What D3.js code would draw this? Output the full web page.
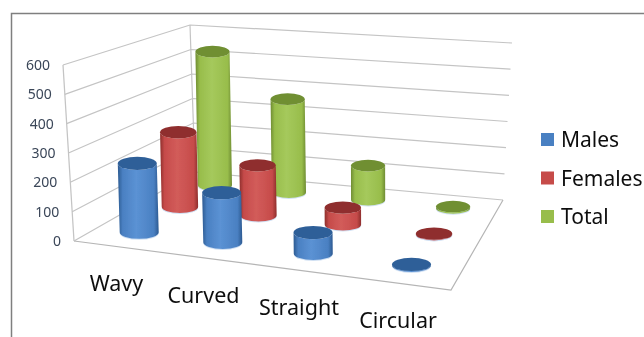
<!DOCTYPE html>
<html>
<head>
<meta charset="utf-8">
<script src="https://cdnjs.cloudflare.com/ajax/libs/d3/7.8.5/d3.min.js"></script>
<style>
    html, body {margin:0; padding:0; background:#fff;}
    svg {display:block;}
    text {font-family:"Noto Sans", "Open Sans", sans-serif;}
</style>
</head>
<body>
<svg id="vis"></svg>
<script>
var categories = ["Wavy","Curved","Straight","Circular"];
var seriesNames = ["Males","Females","Total"];
var males = [240,170,70,3];
var females = [277,182,60,2];
var total = [525,360,130,5];
var yTicks = [0,100,200,300,400,500,600];

var seriesValues = {Males:males, Females:females, Total:total};
var colors = {
    Males:  {top:"#2f5f98", dark:"#2c5a91", body:"#4a80c2", light:"#5b92d4"},
    Females:{top:"#8f2f2d", dark:"#8e2f2c", body:"#c64b4a", light:"#d25c5a"},
    Total:  {top:"#6f8f32", dark:"#6f8c33", body:"#98bd4b", light:"#a5c95c"}
};

var width = 644, height = 337;

var svg = d3.select("#vis").attr("width", width).attr("height", height);

//corners of the 3d box as seen in the picture: front-left, front-right, back-right, back-left
var floorQuad = [[74,241],[451,290],[503,200],[195,172]];
var topQuad = [[63,65],[462,100],[512,43],[190,25]];

function squareToQuad(q){
    var dx1 = q[1][0]-q[2][0], dx2 = q[3][0]-q[2][0], sx = q[0][0]-q[1][0]+q[2][0]-q[3][0];
    var dy1 = q[1][1]-q[2][1], dy2 = q[3][1]-q[2][1], sy = q[0][1]-q[1][1]+q[2][1]-q[3][1];
    var det = dx1*dy2-dx2*dy1;
    var g = (sx*dy2-dx2*sy)/det, h = (dx1*sy-sx*dy1)/det;
    var a = q[1][0]-q[0][0]+g*q[1][0], b = q[3][0]-q[0][0]+h*q[3][0], c = q[0][0];
    var d = q[1][1]-q[0][1]+g*q[1][1], e = q[3][1]-q[0][1]+h*q[3][1], f = q[0][1];
    return function(u,v){
        var w = g*u+h*v+1;
        return [(a*u+b*v+c)/w, (d*u+e*v+f)/w];
    };
}

var floorMap = squareToQuad(floorQuad), topMap = squareToQuad(topQuad);

//scales
var x = d3.scaleBand().domain(categories).range([0.005,1.005]);
var z = d3.scaleBand().domain(seriesNames).range([0,1]);
var y = d3.scaleLinear().domain([0,600]).range([0,1]);

function project(u,v,val){
    var a = floorMap(u,v), b = topMap(u,v), t = y(val);
    return [a[0]+(b[0]-a[0])*t, a[1]+(b[1]-a[1])*t];
}

var defs = svg.append("defs");
defs.append("filter").attr("id","soft")
    .append("feGaussianBlur").attr("stdDeviation",0.45);

seriesNames.forEach(function(s){
    var g = defs.append("linearGradient").attr("id","grad"+s);
    [[0,colors[s].dark],[0.12,colors[s].body],[0.45,colors[s].light],[0.88,colors[s].body],[1,colors[s].dark]]
        .forEach(function(st){
            g.append("stop").attr("offset",st[0]).attr("stop-color",st[1]);
        });
});

svg.append("rect").attr("width",width).attr("height",height).attr("fill","#fff");

var chart = svg.append("g").attr("filter","url(#soft)");

//picture frame
chart.append("path")
    .attr("d","M11.5,337V13.5H644")
    .attr("fill","none")
    .attr("stroke","#7f7f7f")
    .attr("stroke-width",1.5);

//wall lines
var line = d3.line();
var grid = chart.append("g");
yTicks.forEach(function(t){
    grid.append("path")
        .attr("d",line([project(0,0,t),project(0,1,t),project(1,1,t)]))
        .attr("fill","none")
        .attr("stroke","#c4c4c4")
        .attr("stroke-width",1.2);
});
grid.append("path")
    .attr("d",line([project(0,0,0),project(1,0,0),project(1,1,0)]))
    .attr("fill","none")
    .attr("stroke","#b5b5b5")
    .attr("stroke-width",1.2);
grid.append("path")
    .attr("d",line([project(0,0,0),project(0,0,600)]))
    .attr("fill","none")
    .attr("stroke","#c4c4c4")
    .attr("stroke-width",1.2);
grid.append("path")
    .attr("d",line([project(0,1,0),project(0,1,600)]))
    .attr("fill","none")
    .attr("stroke","#c4c4c4")
    .attr("stroke-width",1.2);

//y labels
chart.append("g").selectAll("text")
    .data(yTicks)
    .enter().append("text")
    .text(function(d) {return d;})
    .attr("x", function(d) {return project(0,0,d)[0]-13;})
    .attr("y", function(d) {return project(0,0,d)[1];})
    .attr("dy",".35em")
    .attr("text-anchor","end")
    .attr("font-size",14)
    .attr("fill","#3a4658");

//cylinders, back row first
var radius = 0.054, flat = 0.34, lean = 0.5;

function cylinder(g,s,cat,val){
    var u = x(cat)+x.bandwidth()/2, v = z(s)+z.bandwidth()/2;
    var base = project(u,v,0), top = project(u,v,val);
    top[0] = base[0]+(top[0]-base[0])*lean;
    //same width along a row, measured mid floor
    var left = project(0.5-radius,v,0), right = project(0.5+radius,v,0);
    var rx = (right[0]-left[0])/2, ry = rx*flat;

    g.append("ellipse")
        .attr("cx",base[0]).attr("cy",base[1]+1)
        .attr("rx",rx).attr("ry",ry)
        .attr("fill","#bcd3ee").attr("opacity",0.7);

    var p = "M"+(top[0]-rx)+","+top[1]+
        "L"+(base[0]-rx)+","+base[1]+
        "A"+rx+","+ry+" 0 0 0 "+(base[0]+rx)+","+base[1]+
        "L"+(top[0]+rx)+","+top[1]+
        "A"+rx+","+ry+" 0 0 1 "+(top[0]-rx)+","+top[1]+"Z";
    g.append("path").attr("d",p).attr("fill","url(#grad"+s+")");

    g.append("ellipse")
        .attr("cx",top[0]).attr("cy",top[1])
        .attr("rx",rx).attr("ry",ry)
        .attr("fill",colors[s].top);
}

var bars = chart.append("g");
seriesNames.slice().reverse().forEach(function(s){
    categories.forEach(function(c,i){
        cylinder(bars,s,c,seriesValues[s][i]);
    });
});

//category labels
var catX = d3.scaleOrdinal().domain(categories).range([116.5,203.5,299,398]);
var catY = d3.scalePoint().domain(categories).range([283,320]);
chart.append("g").selectAll("text")
    .data(categories)
    .enter().append("text")
    .text(function(d) {return d;})
    .attr("x", function(d) {return catX(d);})
    .attr("y", function(d) {return catY(d);})
    .attr("dy",".35em")
    .attr("text-anchor","middle")
    .attr("font-size",21.5)
    .attr("fill","#111");

//legend
var legendY = d3.scalePoint().domain(seriesNames).range([140,217]);
var legend = chart.append("g").selectAll("g")
    .data(seriesNames)
    .enter().append("g")
    .attr("transform", function(d) {return "translate(541," + legendY(d) + ")";});
legend.append("rect")
    .attr("y",-7)
    .attr("width",13)
    .attr("height",13)
    .attr("fill", function(d) {return colors[d].body;});
legend.append("text")
    .text(function(d) {return d;})
    .attr("x",20)
    .attr("dy",".35em")
    .attr("font-size",21)
    .attr("fill","#111");
</script>
</body>
</html>
